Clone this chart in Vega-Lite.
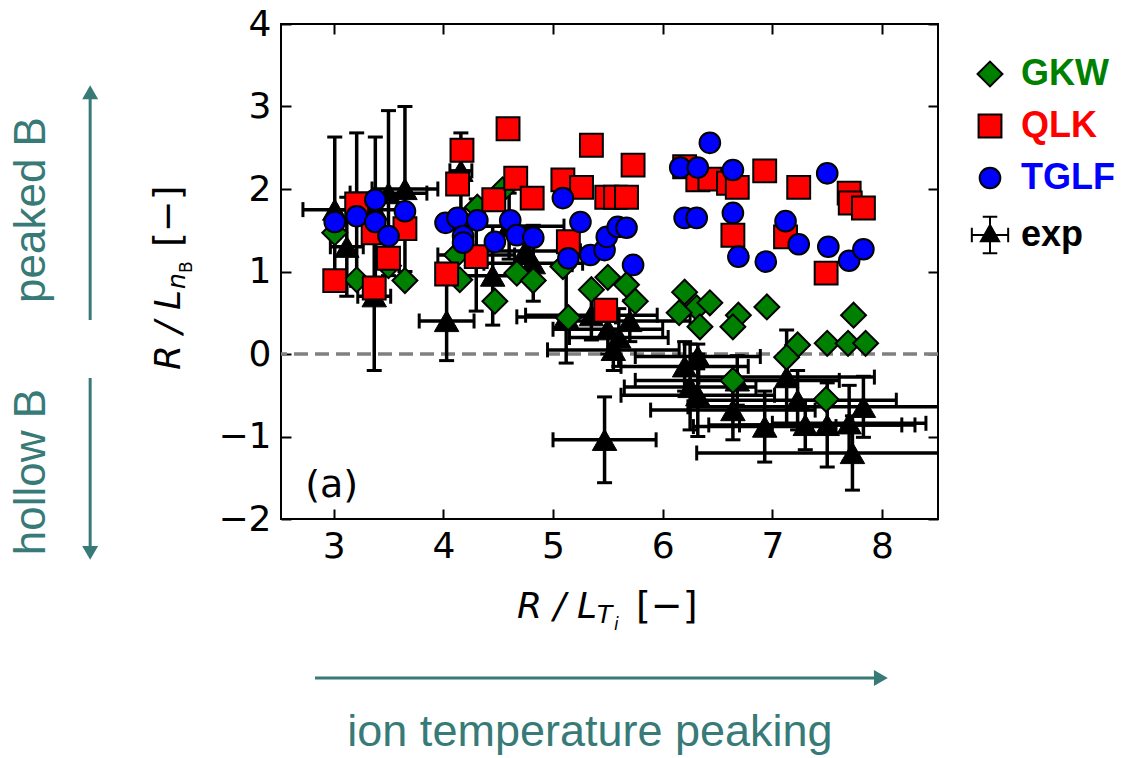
{
  "$schema": "https://vega.github.io/schema/vega-lite/v6.json",
  "width": 657,
  "height": 495,
  "autosize": {"type": "none"},
  "padding": {"left": 281, "top": 24, "right": 189, "bottom": 239},
  "background": "white",
  "config": {
    "view": {"stroke": "black", "strokeWidth": 2},
    "axis": {"grid": false, "domain": false}
  },
  "datasets": {
    "models": [
      {"model": "GKW", "x": 3.01, "y": 1.47}, {"model": "GKW", "x": 3.40, "y": 1.48}, {"model": "GKW", "x": 3.21, "y": 0.90},
      {"model": "GKW", "x": 3.65, "y": 0.89}, {"model": "GKW", "x": 3.50, "y": 1.07}, {"model": "GKW", "x": 4.12, "y": 1.20},
      {"model": "GKW", "x": 4.15, "y": 0.90}, {"model": "GKW", "x": 4.31, "y": 1.78}, {"model": "GKW", "x": 4.47, "y": 0.64},
      {"model": "GKW", "x": 4.54, "y": 1.99}, {"model": "GKW", "x": 4.67, "y": 0.98}, {"model": "GKW", "x": 4.82, "y": 0.89},
      {"model": "GKW", "x": 5.09, "y": 1.06}, {"model": "GKW", "x": 5.14, "y": 0.44}, {"model": "GKW", "x": 5.35, "y": 0.78},
      {"model": "GKW", "x": 5.50, "y": 0.93}, {"model": "GKW", "x": 5.67, "y": 0.84}, {"model": "GKW", "x": 5.75, "y": 0.64},
      {"model": "GKW", "x": 6.20, "y": 0.75}, {"model": "GKW", "x": 6.31, "y": 0.56}, {"model": "GKW", "x": 6.43, "y": 0.62},
      {"model": "GKW", "x": 6.15, "y": 0.50}, {"model": "GKW", "x": 6.34, "y": 0.33}, {"model": "GKW", "x": 6.69, "y": 0.47},
      {"model": "GKW", "x": 6.64, "y": 0.33}, {"model": "GKW", "x": 6.95, "y": 0.57}, {"model": "GKW", "x": 7.74, "y": 0.47},
      {"model": "GKW", "x": 7.23, "y": 0.11}, {"model": "GKW", "x": 7.13, "y": -0.04}, {"model": "GKW", "x": 7.50, "y": 0.13},
      {"model": "GKW", "x": 7.69, "y": 0.13}, {"model": "GKW", "x": 7.85, "y": 0.13}, {"model": "GKW", "x": 6.64, "y": -0.32},
      {"model": "GKW", "x": 7.49, "y": -0.55},
      {"model": "QLK", "x": 3.01, "y": 0.89}, {"model": "QLK", "x": 3.37, "y": 0.80}, {"model": "QLK", "x": 3.21, "y": 1.82},
      {"model": "QLK", "x": 3.36, "y": 1.47}, {"model": "QLK", "x": 3.65, "y": 1.52}, {"model": "QLK", "x": 3.50, "y": 1.16},
      {"model": "QLK", "x": 4.03, "y": 0.97}, {"model": "QLK", "x": 4.30, "y": 1.18}, {"model": "QLK", "x": 4.17, "y": 2.47},
      {"model": "QLK", "x": 4.13, "y": 2.06}, {"model": "QLK", "x": 4.46, "y": 1.87}, {"model": "QLK", "x": 4.59, "y": 2.73},
      {"model": "QLK", "x": 4.66, "y": 2.13}, {"model": "QLK", "x": 4.81, "y": 1.89}, {"model": "QLK", "x": 5.09, "y": 2.11},
      {"model": "QLK", "x": 5.26, "y": 2.02}, {"model": "QLK", "x": 5.35, "y": 2.53}, {"model": "QLK", "x": 5.49, "y": 1.90},
      {"model": "QLK", "x": 5.57, "y": 1.90}, {"model": "QLK", "x": 5.67, "y": 1.90}, {"model": "QLK", "x": 5.73, "y": 2.29},
      {"model": "QLK", "x": 5.14, "y": 1.36}, {"model": "QLK", "x": 5.48, "y": 0.53}, {"model": "QLK", "x": 6.20, "y": 2.27},
      {"model": "QLK", "x": 6.32, "y": 2.11}, {"model": "QLK", "x": 6.43, "y": 2.12}, {"model": "QLK", "x": 6.60, "y": 2.07},
      {"model": "QLK", "x": 6.68, "y": 2.02}, {"model": "QLK", "x": 6.93, "y": 2.22}, {"model": "QLK", "x": 7.24, "y": 2.02},
      {"model": "QLK", "x": 7.70, "y": 1.95}, {"model": "QLK", "x": 7.71, "y": 1.83}, {"model": "QLK", "x": 7.83, "y": 1.77},
      {"model": "QLK", "x": 6.64, "y": 1.44}, {"model": "QLK", "x": 7.12, "y": 1.42}, {"model": "QLK", "x": 7.49, "y": 0.98},
      {"model": "TGLF", "x": 3.01, "y": 1.60}, {"model": "TGLF", "x": 3.21, "y": 1.67}, {"model": "TGLF", "x": 3.38, "y": 1.60},
      {"model": "TGLF", "x": 3.50, "y": 1.43}, {"model": "TGLF", "x": 3.65, "y": 1.73}, {"model": "TGLF", "x": 3.38, "y": 1.87},
      {"model": "TGLF", "x": 4.02, "y": 1.59}, {"model": "TGLF", "x": 4.13, "y": 1.65}, {"model": "TGLF", "x": 4.31, "y": 1.62},
      {"model": "TGLF", "x": 4.18, "y": 1.43}, {"model": "TGLF", "x": 4.18, "y": 1.35}, {"model": "TGLF", "x": 4.47, "y": 1.36},
      {"model": "TGLF", "x": 4.61, "y": 1.62}, {"model": "TGLF", "x": 4.67, "y": 1.44}, {"model": "TGLF", "x": 4.82, "y": 1.41},
      {"model": "TGLF", "x": 5.09, "y": 1.89}, {"model": "TGLF", "x": 5.25, "y": 1.60}, {"model": "TGLF", "x": 5.14, "y": 1.16},
      {"model": "TGLF", "x": 5.34, "y": 1.20}, {"model": "TGLF", "x": 5.47, "y": 1.26}, {"model": "TGLF", "x": 5.49, "y": 1.42},
      {"model": "TGLF", "x": 5.59, "y": 1.54}, {"model": "TGLF", "x": 5.67, "y": 1.53}, {"model": "TGLF", "x": 5.73, "y": 1.08},
      {"model": "TGLF", "x": 6.16, "y": 2.26}, {"model": "TGLF", "x": 6.32, "y": 2.26}, {"model": "TGLF", "x": 6.43, "y": 2.56},
      {"model": "TGLF", "x": 6.20, "y": 1.65}, {"model": "TGLF", "x": 6.31, "y": 1.65}, {"model": "TGLF", "x": 6.64, "y": 2.23},
      {"model": "TGLF", "x": 6.64, "y": 1.71}, {"model": "TGLF", "x": 6.69, "y": 1.18}, {"model": "TGLF", "x": 6.94, "y": 1.12},
      {"model": "TGLF", "x": 7.12, "y": 1.61}, {"model": "TGLF", "x": 7.24, "y": 1.33}, {"model": "TGLF", "x": 7.50, "y": 2.19},
      {"model": "TGLF", "x": 7.51, "y": 1.30}, {"model": "TGLF", "x": 7.70, "y": 1.13}, {"model": "TGLF", "x": 7.83, "y": 1.27}
    ],
    "exp": [
      {"x": 3.01, "y": 1.75, "xerr": 0.29, "yerr": 0.88},
      {"x": 3.21, "y": 1.75, "xerr": 0.20, "yerr": 0.93},
      {"x": 3.38, "y": 1.75, "xerr": 0.20, "yerr": 0.88},
      {"x": 3.37, "y": 0.70, "xerr": 0.15, "yerr": 0.90},
      {"x": 3.12, "y": 1.30, "xerr": 0.15, "yerr": 0.60},
      {"x": 3.50, "y": 1.95, "xerr": 0.35, "yerr": 1.00},
      {"x": 3.65, "y": 2.00, "xerr": 0.30, "yerr": 1.00},
      {"x": 4.03, "y": 0.40, "xerr": 0.25, "yerr": 0.48},
      {"x": 4.16, "y": 2.22, "xerr": 0.10, "yerr": 0.46},
      {"x": 4.30, "y": 1.20, "xerr": 0.35, "yerr": 0.68},
      {"x": 4.45, "y": 0.95, "xerr": 0.40, "yerr": 0.60},
      {"x": 4.60, "y": 1.55, "xerr": 0.50, "yerr": 0.40},
      {"x": 4.75, "y": 1.25, "xerr": 0.50, "yerr": 0.30},
      {"x": 4.82, "y": 1.10, "xerr": 0.45, "yerr": 0.46},
      {"x": 5.12, "y": 0.45, "xerr": 0.45, "yerr": 0.56},
      {"x": 5.35, "y": 0.47, "xerr": 0.60, "yerr": 0.30},
      {"x": 5.50, "y": 0.30, "xerr": 0.50, "yerr": 0.30},
      {"x": 5.60, "y": 0.20, "xerr": 0.45, "yerr": 0.35},
      {"x": 5.70, "y": 0.40, "xerr": 0.55, "yerr": 0.25},
      {"x": 5.55, "y": 0.05, "xerr": 0.60, "yerr": 0.25},
      {"x": 5.47, "y": -1.04, "xerr": 0.47, "yerr": 0.52},
      {"x": 6.20, "y": -0.15, "xerr": 0.58, "yerr": 0.30},
      {"x": 6.25, "y": -0.40, "xerr": 0.60, "yerr": 0.52},
      {"x": 6.32, "y": -0.50, "xerr": 0.70, "yerr": 0.50},
      {"x": 6.32, "y": -0.03, "xerr": 0.57, "yerr": 0.15},
      {"x": 6.64, "y": -0.68, "xerr": 0.75, "yerr": 0.36},
      {"x": 6.68, "y": -0.32, "xerr": 0.93, "yerr": 0.30},
      {"x": 6.93, "y": -0.88, "xerr": 0.65, "yerr": 0.43},
      {"x": 7.13, "y": -0.28, "xerr": 0.80, "yerr": 0.57},
      {"x": 7.23, "y": -0.56, "xerr": 0.90, "yerr": 0.36},
      {"x": 7.30, "y": -0.86, "xerr": 0.88, "yerr": 0.30},
      {"x": 7.50, "y": -0.86, "xerr": 0.80, "yerr": 0.51},
      {"x": 7.70, "y": -0.84, "xerr": 0.70, "yerr": 0.46},
      {"x": 7.73, "y": -1.20, "xerr": 1.42, "yerr": 0.45},
      {"x": 7.83, "y": -0.64, "xerr": 1.60, "yerr": 0.37}
    ]
  },
  "resolve": {"axis": {"x": "independent", "y": "independent"}},
  "layer": [
    {
      "data": {"values": [{}]},
      "mark": {"type": "rule", "color": "#808080", "strokeWidth": 3.5, "strokeDash": [14, 7]},
      "encoding": {
        "y": {"datum": 0, "type": "quantitative", "scale": {"domain": [-2, 4], "nice": false, "zero": false}, "axis": null}
      }
    },
    {
      "data": {"name": "exp"},
      "mark": {"type": "errorbar", "thickness": 3.5, "color": "black", "opacity": 1, "clip": true,
        "rule": {"color": "black", "opacity": 1, "strokeWidth": 3.5},
        "ticks": {"size": 15, "thickness": 3, "color": "black", "opacity": 1}},
      "encoding": {
        "x": {"field": "x", "type": "quantitative", "scale": {"domain": [2.52, 8.51], "nice": false, "zero": false}, "axis": null},
        "xError": {"field": "xerr"},
        "y": {"field": "y", "type": "quantitative", "scale": {"domain": [-2, 4], "nice": false, "zero": false}, "axis": null}
      }
    },
    {
      "data": {"name": "exp"},
      "mark": {"type": "errorbar", "thickness": 3.5, "color": "black", "opacity": 1, "clip": true,
        "rule": {"color": "black", "opacity": 1, "strokeWidth": 3.5},
        "ticks": {"size": 15, "thickness": 3, "color": "black", "opacity": 1}},
      "encoding": {
        "y": {"field": "y", "type": "quantitative", "scale": {"domain": [-2, 4], "nice": false, "zero": false}, "axis": null},
        "yError": {"field": "yerr"},
        "x": {"field": "x", "type": "quantitative", "scale": {"domain": [2.52, 8.51], "nice": false, "zero": false}, "axis": null}
      }
    },
    {
      "data": {"name": "exp"},
      "mark": {"type": "point", "shape": "triangle-up", "filled": true, "color": "black", "stroke": "black", "strokeWidth": 1, "size": 600, "opacity": 1},
      "encoding": {
        "x": {"field": "x", "type": "quantitative", "scale": {"domain": [2.52, 8.51], "nice": false, "zero": false},
          "axis": {"orient": "bottom", "values": [3, 4, 5, 6, 7, 8], "title": null, "tickSize": -10, "tickWidth": 2, "tickColor": "black",
            "labelFont": "DejaVu Sans", "labelFontSize": 36, "labelColor": "black", "labelPadding": 20, "labelFlush": false}},
        "y": {"field": "y", "type": "quantitative", "scale": {"domain": [-2, 4], "nice": false, "zero": false},
          "axis": {"orient": "left", "values": [-2, -1, 0, 1, 2, 3, 4], "title": null, "tickSize": -10, "tickWidth": 2, "tickColor": "black",
            "labelFont": "DejaVu Sans", "labelFontSize": 36, "labelColor": "black", "labelPadding": 20, "labelFlush": false,
            "labelExpr": "replace(datum.label, '-', '\u2212')"}}
      }
    },
    {
      "data": {"name": "models"},
      "mark": {"type": "point", "filled": true, "stroke": "black", "strokeWidth": 2, "opacity": 1},
      "encoding": {
        "x": {"field": "x", "type": "quantitative", "scale": {"domain": [2.52, 8.51], "nice": false, "zero": false},
          "axis": {"orient": "top", "values": [3, 4, 5, 6, 7, 8], "title": null, "labels": false, "tickSize": -10, "tickWidth": 2, "tickColor": "black"}},
        "y": {"field": "y", "type": "quantitative", "scale": {"domain": [-2, 4], "nice": false, "zero": false},
          "axis": {"orient": "right", "values": [-2, -1, 0, 1, 2, 3, 4], "title": null, "labels": false, "tickSize": -10, "tickWidth": 2, "tickColor": "black"}},
        "color": {"field": "model", "type": "nominal",
          "scale": {"domain": ["GKW", "QLK", "TGLF", "exp"], "range": ["#008000", "#ff0000", "#0000ff", "#000000"]},
          "legend": {"orient": "none", "legendX": 691, "legendY": 32, "title": null, "padding": 0, "rowPadding": 16, "labelOffset": 13,
            "labelFont": "Liberation Sans", "labelFontSize": 36, "labelFontWeight": "bold", "symbolStrokeColor": "black", "symbolStrokeWidth": 2,
            "labelColor": {"expr": "datum.value === 'GKW' ? '#008000' : datum.value === 'QLK' ? '#ff0000' : datum.value === 'TGLF' ? '#0000ff' : '#000000'"}}},
        "shape": {"field": "model", "type": "nominal",
          "scale": {"domain": ["GKW", "QLK", "TGLF", "exp"], "range": ["diamond", "square", "circle", "M0,-1.1L1,0.7L-1,0.7Z M-2,0L2,0 M0,-2L0,2 M-2,-0.8L-2,0.8 M2,-0.8L2,0.8 M-0.8,-2L0.8,-2 M-0.8,2L0.8,2"]},
          "legend": {"orient": "none", "legendX": 691, "legendY": 32, "title": null, "padding": 0, "rowPadding": 16, "labelOffset": 13,
            "labelFont": "Liberation Sans", "labelFontSize": 36, "labelFontWeight": "bold", "symbolStrokeColor": "black", "symbolStrokeWidth": 2,
            "labelColor": {"expr": "datum.value === 'GKW' ? '#008000' : datum.value === 'QLK' ? '#ff0000' : datum.value === 'TGLF' ? '#0000ff' : '#000000'"}}},
        "size": {"field": "model", "type": "nominal",
          "scale": {"domain": ["GKW", "QLK", "TGLF", "exp"], "range": [620, 330, 420, 1600]},
          "legend": {"orient": "none", "legendX": 691, "legendY": 32, "title": null, "padding": 0, "rowPadding": 16, "labelOffset": 13,
            "labelFont": "Liberation Sans", "labelFontSize": 36, "labelFontWeight": "bold", "symbolStrokeColor": "black", "symbolStrokeWidth": 2,
            "labelColor": {"expr": "datum.value === 'GKW' ? '#008000' : datum.value === 'QLK' ? '#ff0000' : datum.value === 'TGLF' ? '#0000ff' : '#000000'"}}}
      }
    },
    {
      "data": {"values": [{}]},
      "mark": {"type": "text", "text": "(a)", "font": "DejaVu Sans", "fontSize": 38, "align": "left", "baseline": "alphabetic", "color": "black"},
      "encoding": {"x": {"datum": 2.74, "type": "quantitative", "axis": null}, "y": {"datum": -1.733, "type": "quantitative", "axis": null}}
    },
    {
      "data": {"values": [{}]},
      "mark": {"type": "text", "text": "R / L", "font": "DejaVu Sans", "fontStyle": "italic", "fontSize": 36, "align": "left", "baseline": "alphabetic", "color": "black"},
      "encoding": {"x": {"datum": 4.672, "type": "quantitative", "axis": null}, "y": {"datum": -3.2, "type": "quantitative", "axis": null}}
    },
    {
      "data": {"values": [{}]},
      "mark": {"type": "text", "text": "T", "font": "DejaVu Sans", "fontStyle": "italic", "fontSize": 25, "align": "left", "baseline": "alphabetic", "color": "black"},
      "encoding": {"x": {"datum": 5.401, "type": "quantitative", "axis": null}, "y": {"datum": -3.261, "type": "quantitative", "axis": null}}
    },
    {
      "data": {"values": [{}]},
      "mark": {"type": "text", "text": "i", "font": "DejaVu Sans", "fontStyle": "italic", "fontSize": 17, "align": "left", "baseline": "alphabetic", "color": "black"},
      "encoding": {"x": {"datum": 5.556, "type": "quantitative", "axis": null}, "y": {"datum": -3.345, "type": "quantitative", "axis": null}}
    },
    {
      "data": {"values": [{}]},
      "mark": {"type": "text", "text": "[\u2212]", "font": "DejaVu Sans", "fontSize": 38, "align": "left", "baseline": "alphabetic", "color": "black"},
      "encoding": {"x": {"datum": 5.757, "type": "quantitative", "axis": null}, "y": {"datum": -3.2, "type": "quantitative", "axis": null}}
    },
    {
      "data": {"values": [{}]},
      "mark": {"type": "text", "text": "R / L", "font": "DejaVu Sans", "fontStyle": "italic", "fontSize": 36, "angle": 270, "align": "left", "baseline": "alphabetic", "color": "black"},
      "encoding": {"x": {"datum": 1.599, "type": "quantitative", "axis": null}, "y": {"datum": -0.194, "type": "quantitative", "axis": null}}
    },
    {
      "data": {"values": [{}]},
      "mark": {"type": "text", "text": "n", "font": "DejaVu Sans", "fontStyle": "italic", "fontSize": 25, "angle": 270, "align": "left", "baseline": "alphabetic", "color": "black"},
      "encoding": {"x": {"datum": 1.645, "type": "quantitative", "axis": null}, "y": {"datum": 0.788, "type": "quantitative", "axis": null}}
    },
    {
      "data": {"values": [{}]},
      "mark": {"type": "text", "text": "B", "font": "DejaVu Sans", "fontSize": 17, "angle": 270, "align": "left", "baseline": "alphabetic", "color": "black"},
      "encoding": {"x": {"datum": 1.709, "type": "quantitative", "axis": null}, "y": {"datum": 0.982, "type": "quantitative", "axis": null}}
    },
    {
      "data": {"values": [{}]},
      "mark": {"type": "text", "text": "[\u2212]", "font": "DejaVu Sans", "fontSize": 38, "angle": 270, "align": "left", "baseline": "alphabetic", "color": "black"},
      "encoding": {"x": {"datum": 1.599, "type": "quantitative", "axis": null}, "y": {"datum": 1.297, "type": "quantitative", "axis": null}}
    },
    {
      "data": {"values": [{}]},
      "mark": {"type": "text", "text": "peaked B", "font": "Liberation Sans", "fontSize": 44, "angle": 270, "align": "center", "baseline": "alphabetic", "color": "#377a78"},
      "encoding": {"x": {"datum": 0.37, "type": "quantitative", "axis": null}, "y": {"datum": 1.745, "type": "quantitative", "axis": null}}
    },
    {
      "data": {"values": [{}]},
      "mark": {"type": "text", "text": "hollow B", "font": "Liberation Sans", "fontSize": 44, "angle": 270, "align": "center", "baseline": "alphabetic", "color": "#377a78"},
      "encoding": {"x": {"datum": 0.37, "type": "quantitative", "axis": null}, "y": {"datum": -1.43, "type": "quantitative", "axis": null}}
    },
    {
      "data": {"values": [{}]},
      "mark": {"type": "text", "text": "ion temperature peaking", "font": "Liberation Sans", "fontSize": 45, "align": "center", "baseline": "alphabetic", "color": "#377a78"},
      "encoding": {"x": {"datum": 5.337, "type": "quantitative", "axis": null}, "y": {"datum": -4.752, "type": "quantitative", "axis": null}}
    },
    {
      "data": {"values": [{}]},
      "mark": {"type": "rule", "color": "#377a78", "strokeWidth": 3},
      "encoding": {"x": {"datum": 0.78, "type": "quantitative", "axis": null}, "y": {"datum": 0.412, "type": "quantitative", "axis": null}, "y2": {"datum": 3.14}}
    },
    {
      "data": {"values": [{}]},
      "mark": {"type": "point", "shape": "triangle-up", "filled": true, "color": "#377a78", "size": 256, "opacity": 1},
      "encoding": {"x": {"datum": 0.78, "type": "quantitative", "axis": null}, "y": {"datum": 3.173, "type": "quantitative", "axis": null}}
    },
    {
      "data": {"values": [{}]},
      "mark": {"type": "rule", "color": "#377a78", "strokeWidth": 3},
      "encoding": {"x": {"datum": 0.78, "type": "quantitative", "axis": null}, "y": {"datum": -0.291, "type": "quantitative", "axis": null}, "y2": {"datum": -2.376}}
    },
    {
      "data": {"values": [{}]},
      "mark": {"type": "point", "shape": "triangle-down", "filled": true, "color": "#377a78", "size": 256, "opacity": 1},
      "encoding": {"x": {"datum": 0.78, "type": "quantitative", "axis": null}, "y": {"datum": -2.41, "type": "quantitative", "axis": null}}
    },
    {
      "data": {"values": [{}]},
      "mark": {"type": "rule", "color": "#377a78", "strokeWidth": 3},
      "encoding": {"x": {"datum": 2.83, "type": "quantitative", "axis": null}, "x2": {"datum": 7.98}, "y": {"datum": -3.927, "type": "quantitative", "axis": null}}
    },
    {
      "data": {"values": [{}]},
      "mark": {"type": "point", "shape": "triangle-right", "filled": true, "color": "#377a78", "size": 256, "opacity": 1},
      "encoding": {"x": {"datum": 7.989, "type": "quantitative", "axis": null}, "y": {"datum": -3.927, "type": "quantitative", "axis": null}}
    }
  ]
}
